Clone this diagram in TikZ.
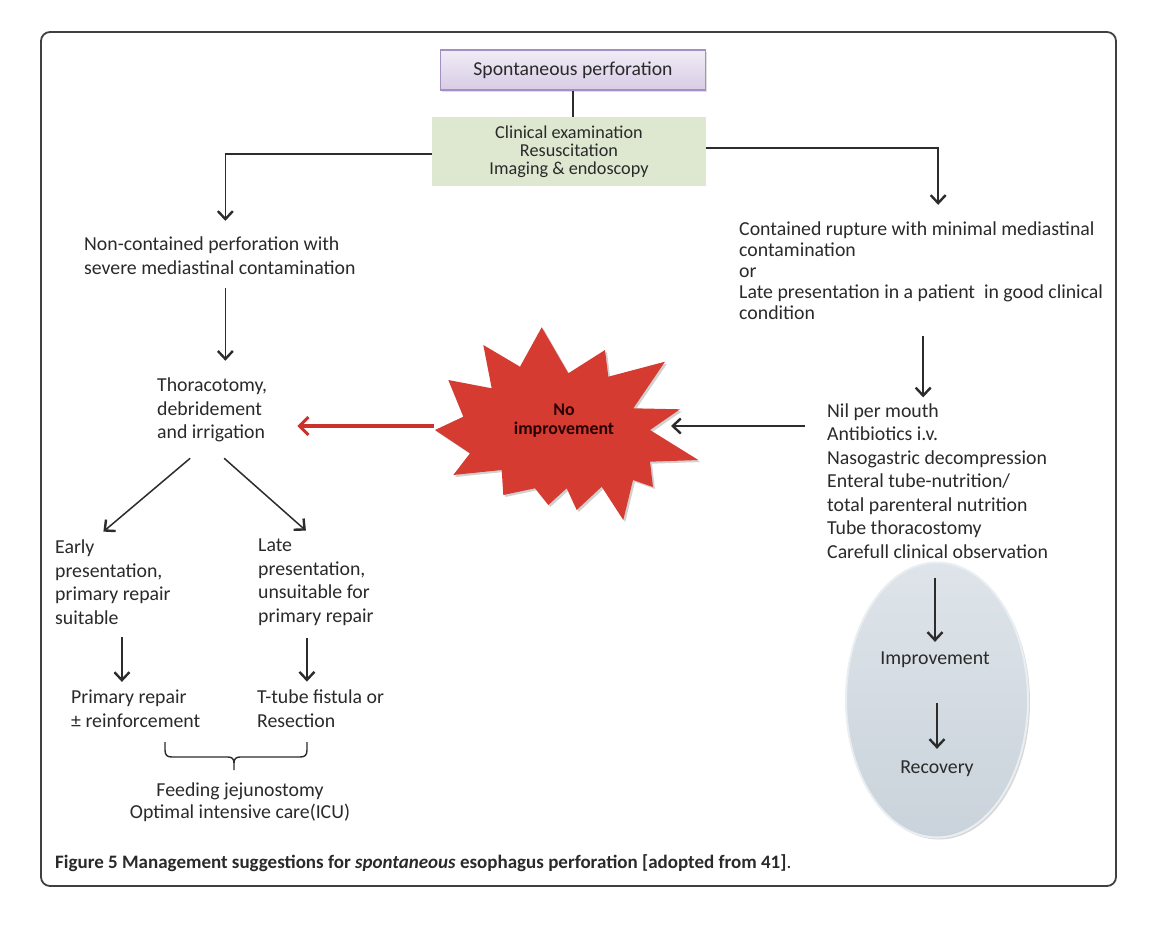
\documentclass[tikz,border=0pt]{standalone}
\usepackage{fontspec}
\setmainfont{Carlito}
\usetikzlibrary{arrows.meta,shadows,shapes.geometric,calc}
\definecolor{txtc}{HTML}{2A2A2A}
\definecolor{linec}{HTML}{2C2C2C}
\definecolor{lavtop}{HTML}{F1ECF6}
\definecolor{lavbot}{HTML}{D8CCE6}
\definecolor{lavdraw}{HTML}{A38FC2}
\definecolor{greenf}{HTML}{DEE8D1}
\definecolor{starred}{HTML}{D63B32}
\definecolor{arrred}{HTML}{CC322C}
\definecolor{elltop}{HTML}{DEE4E9}
\definecolor{ellbot}{HTML}{CAD3DB}
\definecolor{ellrim}{HTML}{E9EEF2}
\tikzset{
  txt/.style={inner sep=0pt, text=txtc, align=left, font=\fontsize{19.8}{23.5}\selectfont},
  arr/.style={draw=linec, line width=1.5pt, -{Straight Barb[length=8pt,width=15pt,line width=2.4pt]}},
  redarr/.style={draw=arrred, line width=3.4pt, -{Straight Barb[length=9pt,width=18pt,line width=3pt]}},
  topbox/.style={draw=lavdraw, line width=1.2pt, top color=lavtop, bottom color=lavbot,
    minimum width=265pt, minimum height=40pt, inner sep=0pt, text=txtc,
    font=\fontsize{19.7}{23}\selectfont, drop shadow={opacity=0.25, shadow xshift=1.5pt, shadow yshift=-1.5pt}},
  greenbox/.style={fill=greenf, minimum width=274pt, minimum height=69pt, inner sep=0pt,
    align=center, text=txtc, font=\fontsize{18.2}{18}\selectfont},
  ellbox/.style={ellipse, draw=ellrim, line width=2pt, top color=elltop, bottom color=ellbot, minimum width=182pt, minimum height=275pt,
    inner sep=0pt, drop shadow={opacity=0.3, shadow xshift=2pt, shadow yshift=-2pt}},
}
\begin{document}
\begin{tikzpicture}[x=1pt,y=-1pt]
\useasboundingbox (0,0) rectangle (1152,932);
\fill[white] (0,0) rectangle (1152,932);
% frame
\draw[rounded corners=9pt, line width=1.8pt, draw=black!75] (41,32) rectangle (1116,886);

% ellipse (background)
\node[ellbox] (el) at (937,700) {};

% top boxes
\node[topbox] (sp) at (573,70) {\raisebox{-2pt}{Spontaneous perforation}};
\node[greenbox] (ce) at (569,151.5) {Clinical examination\\Resuscitation\\Imaging \& endoscopy};
\draw[linec, line width=1.4pt] (sp.south) -- (sp.south |- ce.north);

% left branch texts
\node[txt, anchor=west, font=\fontsize{19.8}{24}\selectfont] (nc) at (84,256) {Non-contained perforation with\\severe mediastinal contamination};
\node[txt, anchor=west] (th) at (157,410) {Thoracotomy,\\debridement\\and irrigation};
\node[txt, anchor=west] (ea) at (55,582) {Early\\presentation,\\primary repair\\suitable};
\node[txt, anchor=west] (la) at (258,582) {Late\\presentation,\\unsuitable for\\primary repair};
\node[txt, anchor=west, font=\fontsize{19.8}{24}\selectfont] (pr) at (71,709) {Primary repair\\\char"00B1\ reinforcement};
\node[txt, anchor=west] (tt) at (257,708.5) {T-tube fistula or\\Resection};
\node[txt, align=center, font=\fontsize{19.8}{22}\selectfont] (fj) at (240,802) {Feeding jejunostomy\\Optimal intensive care(ICU)};

% right branch texts
\node[txt, anchor=west, font=\fontsize{19.8}{21}\selectfont] (rb) at (739,271) {Contained rupture with minimal mediastinal\\contamination\\or\\Late presentation in a patient\ \ in good clinical\\condition};
\node[txt, anchor=west] (li) at (827,481) {Nil per mouth\\Antibiotics i.v.\\Nasogastric decompression\\Enteral tube-nutrition/\\total parenteral nutrition\\Tube thoracostomy\\Carefull clinical observation};
\node[txt, anchor=center] (imp) at (935,660) {Improvement};
\node[txt, anchor=center] (rec) at (937,769) {Recovery};

% star
\fill[black, opacity=0.18, xshift=2pt, yshift=-2pt]
  (541.7,327.3) -- (568.3,373.3) -- (605,350) -- (608.3,376.7) -- (665,361.7) -- (633.3,408.3) --
  (680,409.3) -- (650,430) -- (698.3,460) -- (650,461.7) -- (653,487) -- (633,480) -- (623.3,520) --
  (601.7,486.7) -- (576.7,510) -- (566.7,488.3) -- (548.3,505) -- (535,488.3) -- (503.3,495) --
  (501.7,470) -- (453.3,475) -- (470,453.3) -- (435,430) -- (463.3,416.7) -- (448.3,380) --
  (491.7,388.3) -- (483.3,345) -- (520,366.7) -- cycle;
\fill[starred]
  (541.7,327.3) -- (568.3,373.3) -- (605,350) -- (608.3,376.7) -- (665,361.7) -- (633.3,408.3) --
  (680,409.3) -- (650,430) -- (698.3,460) -- (650,461.7) -- (653,487) -- (633,480) -- (623.3,520) --
  (601.7,486.7) -- (576.7,510) -- (566.7,488.3) -- (548.3,505) -- (535,488.3) -- (503.3,495) --
  (501.7,470) -- (453.3,475) -- (470,453.3) -- (435,430) -- (463.3,416.7) -- (448.3,380) --
  (491.7,388.3) -- (483.3,345) -- (520,366.7) -- cycle;
\coordinate (stL) at (434,426);
\coordinate (stR) at (671,426);
\node[inner sep=0pt, align=center, text=black!85!red, font=\bfseries\fontsize{17.8}{19}\selectfont] (noimp) at (564,421) {No\\improvement};

% connectors
\draw[arr] (ce.west |- 0,154) -| ([xshift=5.5pt,yshift=16pt]nc.north);
\draw[arr] (ce.east |- 0,148) -| ([xshift=17pt,yshift=17pt]rb.north);
\draw[arr] ([xshift=5.5pt,yshift=-13pt]nc.south) -- ([xshift=5.5pt,yshift=17pt]nc.south |- th.north);
\draw[redarr] (stL) -- ([xshift=30pt]th.east |- stL);
\draw[arr] ([xshift=-22pt]li.west |- stR) -- (stR);
\draw[arr] ([xshift=2pt,yshift=-16pt]rb.south) -- ([xshift=2pt,yshift=6pt]rb.south |- li.north);
\draw[arr] ([xshift=-22pt,yshift=-16pt]th.south) -- ([xshift=-9.5pt,yshift=8pt]ea.north);
\draw[arr] ([xshift=12pt,yshift=-16pt]th.south) -- ([xshift=-10pt,yshift=8pt]la.north);
\draw[arr] ([xshift=9pt,yshift=-13pt]ea.south) -- ([xshift=9pt,yshift=8pt]ea.south |- pr.north);
\draw[arr] ([xshift=-9pt,yshift=-13pt]la.south) -- ([xshift=-9pt,yshift=8pt]la.south |- tt.north);
\draw[arr] ([yshift=-19pt]li.south -| imp.north) -- ([yshift=10pt]imp.north);
\draw[arr] ([yshift=-35pt]imp.south -| rec.north) -- ([yshift=12pt]rec.north);

% brace
\draw[linec, line width=1.4pt]
  (165,742) -- (165,750) .. controls (165,755) and (167,757) .. (172,757) -- (228,757)
  .. controls (232,757) and (234,759) .. (234,763) -- (234,770);
\draw[linec, line width=1.4pt]
  (307,742) -- (307,750) .. controls (307,755) and (305,757) .. (300,757) -- (240,757)
  .. controls (236,757) and (234,759) .. (234,763);

% caption
\node[inner sep=0pt, anchor=west, text=txtc, font=\fontsize{19}{22}\selectfont] (cap) at (55,863)
  {\textbf{Figure 5 Management suggestions for \textit{spontaneous} esophagus perforation [adopted from 41]}.};
\end{tikzpicture}
\end{document}
